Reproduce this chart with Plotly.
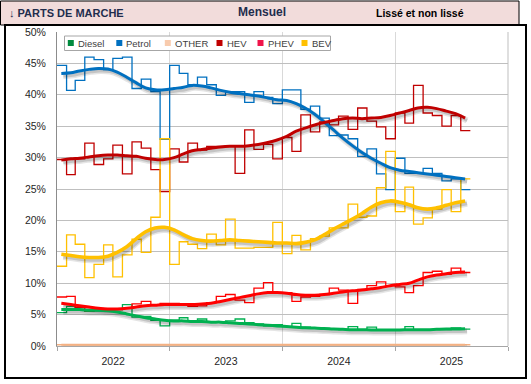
import plotly.graph_objects as go
import pandas as pd

# ---------------- data (monthly market shares, %) ----------------
months = pd.date_range("2022-01-01", periods=44, freq="MS")
years = ["2022", "2023", "2024", "2025"]

diesel = [5.3, 6.3, 5.7, 5.5, 5.6, 5.8, 5.8, 6.6, 4.6, 4.7, 4.1, 3.2,
          4.1, 4.5, 4.0, 4.3, 3.8, 3.8, 4.0, 4.3, 3.7, 3.5, 3.2, 3.4,
          3.1, 3.6, 3.0, 2.9, 2.8, 2.7, 2.6, 3.1, 2.6, 3.0, 2.6, 2.5,
          2.6, 3.1, 2.6, 2.5, 2.6, 2.6, 2.9, 2.7]
petrol = [44.7, 40.7, 42.3, 46.0, 45.6, 44.0, 45.8, 46.0, 41.0, 42.5, 40.5, 32.9,
          44.7, 43.4, 41.6, 42.8, 41.6, 39.9, 40.5, 40.5, 38.8, 40.5, 39.6, 38.6,
          40.8, 40.8, 37.7, 38.2, 36.3, 33.5, 33.6, 33.0, 30.2, 31.4, 27.4, 24.9,
          29.9, 27.5, 27.5, 28.3, 27.5, 26.3, 26.6, 24.9]
other = [0.2] * 44
hev = [29.7, 27.3, 29.8, 32.3, 28.9, 29.8, 32.0, 27.4, 32.5, 31.5, 28.1, 24.6,
       31.4, 29.3, 32.3, 31.2, 31.8, 31.8, 31.9, 27.5, 34.4, 31.3, 32.1, 29.8,
       33.2, 31.0, 36.8, 34.1, 35.7, 35.2, 36.6, 34.5, 37.9, 35.8, 34.9, 33.0,
       37.1, 35.5, 41.5, 37.1, 36.7, 35.0, 36.7, 34.3]
phev = [7.8, 7.9, 6.1, 5.6, 6.0, 5.6, 5.8, 6.0, 6.7, 7.1, 6.6, 6.8,
        6.8, 6.6, 6.3, 6.4, 6.9, 7.9, 8.2, 7.3, 6.9, 9.2, 10.1, 8.5,
        8.5, 7.1, 7.8, 7.9, 8.2, 9.2, 8.9, 6.8, 9.0, 9.6, 10.2, 9.6,
        9.4, 8.5, 9.6, 11.7, 11.9, 11.4, 12.4, 11.7]
bev = [12.7, 17.7, 16.2, 10.9, 13.0, 16.1, 11.0, 14.5, 17.0, 14.9, 20.5, 33.0,
       13.0, 16.6, 16.2, 15.5, 17.8, 16.1, 20.2, 15.6, 15.6, 15.7, 15.7, 19.7,
       14.7, 17.6, 15.3, 17.1, 17.5, 18.8, 18.8, 22.6, 20.5, 20.7, 25.2, 31.0,
       21.4, 25.3, 19.4, 20.4, 21.8, 24.9, 21.4, 26.6]

# smoothed series (one value per month)
diesel_s = [5.8, 5.8, 5.8, 5.7, 5.7, 5.6, 5.4, 5.1, 4.8, 4.5, 4.3, 4.1,
            4.0, 4.0, 3.9, 3.9, 3.8, 3.8, 3.7, 3.6, 3.5, 3.4, 3.3, 3.2,
            3.1, 3.0, 2.9, 2.85, 2.8, 2.7, 2.65, 2.6, 2.6, 2.55, 2.55, 2.55,
            2.55, 2.6, 2.6, 2.6, 2.65, 2.7, 2.7, 2.75]
petrol_s = [43.4, 43.5, 43.8, 44.05, 44.2, 44.1, 43.6, 42.8, 41.9, 41.1, 40.8, 40.8,
            41.0, 41.2, 41.5, 41.4, 41.1, 40.7, 40.4, 40.2, 40.0, 39.8, 39.5, 39.2,
            39.1, 38.6, 37.9, 36.9, 35.7, 34.4, 33.1, 31.9, 30.8, 29.9, 29.1, 28.4,
            28.0, 27.8, 27.6, 27.4, 27.2, 27.0, 26.8, 26.6]
other_s = [0.2] * 44
hev_s = [29.6, 29.8, 29.9, 30.1, 30.3, 30.4, 30.4, 30.3, 30.2, 29.9, 29.7, 29.7,
         30.0, 30.6, 31.1, 31.3, 31.5, 31.7, 31.8, 31.8, 31.9, 32.1, 32.4, 32.8,
         33.4, 34.2, 34.7, 35.2, 35.6, 35.9, 36.2, 36.3, 36.2, 36.3, 36.4, 36.7,
         37.1, 37.5, 37.9, 38.0, 37.8, 37.4, 37.0, 36.3]
phev_s = [6.8, 6.6, 6.4, 6.2, 6.0, 5.9, 5.9, 6.0, 6.2, 6.4, 6.5, 6.6,
          6.6, 6.6, 6.6, 6.7, 6.8, 7.1, 7.4, 7.7, 8.0, 8.3, 8.5, 8.5,
          8.4, 8.2, 8.1, 8.1, 8.2, 8.4, 8.6, 8.8, 8.9, 9.1, 9.3, 9.6,
          9.8, 10.0, 10.5, 11.0, 11.3, 11.5, 11.7, 11.8]
bev_s = [14.6, 14.4, 14.2, 14.1, 14.1, 14.3, 14.9, 15.8, 17.1, 18.2, 18.8, 18.9,
         18.5, 17.7, 17.1, 16.8, 16.7, 16.8, 16.9, 16.8, 16.7, 16.6, 16.5, 16.4,
         16.4, 16.3, 16.5, 16.9, 17.7, 18.6, 19.4, 20.2, 21.1, 22.1, 22.8, 23.1,
         22.9, 22.5, 22.0, 21.8, 22.0, 22.4, 22.8, 23.1]

names = ["Diesel", "Petrol", "OTHER", "HEV", "PHEV", "BEV"]
monthly = [diesel, petrol, other, hev, phev, bev]
smooth = [diesel_s, petrol_s, other_s, hev_s, phev_s, bev_s]
line_colors = ["#00B050", "#0070C0", "#F4B183", "#C00000", "#FF0000", "#FFC000"]
legend_colors = ["#008A3E", "#0070C0", "#F8CBAD", "#C00000", "#F0144A", "#FFC000"]
smooth_widths = [3, 3, 2, 3, 3, 3.6]

# ---------------- geometry ----------------
W, H = 531, 384
ML, MR, MT, MB = 57, 23, 32, 38
PW = W - ML - MR
PH = H - MT - MB

def px(x):
    return (x - ML) / PW

def py(y):
    return (H - MB - y) / PH

x_start = pd.Timestamp("2022-01-01")
x_end = pd.Timestamp("2026-01-01")
span_days = (x_end - x_start).days
shadow_dx = pd.Timedelta(days=2.0 * span_days / PW)
shadow_dy = 2.5 * 50 / PH

step_x = list(months) + [months[-1] + pd.offsets.MonthBegin(1)]
mid_x = [m + pd.Timedelta(days=14) for m in months]

fig = go.Figure()

# monthly (non smoothed) step lines
for n, vals, c in zip(names, monthly, line_colors):
    fig.add_trace(go.Scatter(x=step_x, y=vals + [vals[-1]], mode="lines",
                             line=dict(color=c, width=1.3, shape="hv"),
                             showlegend=False, hoverinfo="skip",
                             xaxis="x", yaxis="y"))

# shadows of the smoothed lines
for n, vals, w in zip(names, smooth, smooth_widths):
    fig.add_trace(go.Scatter(x=mid_x, y=vals, mode="lines",
                             line=dict(color="rgba(0,0,0,0.10)", width=w + 3, shape="spline"),
                             showlegend=False, hoverinfo="skip",
                             xaxis="x2", yaxis="y2"))
    fig.add_trace(go.Scatter(x=mid_x, y=vals, mode="lines",
                             line=dict(color="rgba(0,0,0,0.14)", width=w, shape="spline"),
                             showlegend=False, hoverinfo="skip",
                             xaxis="x2", yaxis="y2"))

# smoothed lines
for n, vals, c, w in zip(names, smooth, line_colors, smooth_widths):
    fig.add_trace(go.Scatter(x=mid_x, y=vals, mode="lines",
                             line=dict(color=c, width=w, shape="spline"),
                             showlegend=False, hoverinfo="skip",
                             xaxis="x3", yaxis="y3"))

year_mid = [pd.Timestamp(f"{y}-07-02") for y in years]

fig.update_layout(
    width=W, height=H,
    margin=dict(l=ML, r=MR, t=MT, b=MB),
    paper_bgcolor="white", plot_bgcolor="white",
    showlegend=False,
    font=dict(family="Liberation Sans, Arial, sans-serif", size=10, color="#262626"),
    xaxis=dict(type="date", range=[x_start, x_end], tickvals=year_mid, ticktext=years,
               ticks="", showgrid=False, zeroline=False,
               showline=True, linecolor="#A6A6A6", linewidth=1,
               ticklabelstandoff=5,
               tickfont=dict(size=10.5, color="#262626"),
               minor=dict(tickvals=[pd.Timestamp(f"{y}-01-01") for y in ["2022", "2023", "2024", "2025", "2026"]],
                          showgrid=True, gridcolor="#D9D9D9", gridwidth=1,
                          ticks="outside", ticklen=4, tickcolor="#A6A6A6")),
    yaxis=dict(range=[0, 50], dtick=5, ticksuffix="%", showgrid=True,
               gridcolor="#BFBFBF", gridwidth=1, zeroline=False,
               showline=True, linecolor="#8C8C8C", linewidth=1,
               ticks="", ticklabelstandoff=8,
               tickfont=dict(size=10.5, color="#262626")),
    xaxis2=dict(type="date", overlaying="x", anchor="y2",
                range=[x_start - shadow_dx, x_end - shadow_dx], visible=False),
    yaxis2=dict(overlaying="y", anchor="x2", range=[shadow_dy, 50 + shadow_dy], visible=False),
    xaxis3=dict(type="date", overlaying="x", anchor="y3",
                range=[x_start, x_end], visible=False),
    yaxis3=dict(overlaying="y", anchor="x3", range=[0, 50], visible=False),
)

shapes = []
annotations = []

# right border of plot area
shapes.append(dict(type="line", xref="paper", yref="paper", x0=1, x1=1, y0=0, y1=1,
                   line=dict(color="#BFBFBF", width=1), layer="below"))

# header band
shapes.append(dict(type="rect", xref="paper", yref="paper",
                   x0=px(0.5), x1=px(519), y0=py(25), y1=py(1),
                   fillcolor="#F2DCDB", line=dict(color="black", width=1)))
# chart frame
shapes.append(dict(type="rect", xref="paper", yref="paper",
                   x0=px(5), x1=px(526), y0=py(378), y1=py(25),
                   fillcolor="rgba(0,0,0,0)", line=dict(color="black", width=2)))

hdr_font = "Liberation Sans, Arial, sans-serif"
annotations.append(dict(xref="paper", yref="paper", x=px(7), y=py(13), xanchor="left", yanchor="middle",
                        text="<b>↓ PARTS DE MARCHE</b>", showarrow=False,
                        font=dict(family=hdr_font, size=11, color="#1F2D4D")))
annotations.append(dict(xref="paper", yref="paper", x=px(262), y=py(12), xanchor="center", yanchor="middle",
                        text="<b>Mensuel</b>", showarrow=False,
                        font=dict(family=hdr_font, size=12, color="#1F2D4D")))
annotations.append(dict(xref="paper", yref="paper", x=px(420), y=py(13), xanchor="center", yanchor="middle",
                        text="<b>Lissé et non lissé</b>", showarrow=False,
                        font=dict(family=hdr_font, size=10.5, color="black")))

# legend box
shapes.append(dict(type="rect", xref="paper", yref="paper",
                   x0=px(64.5), x1=px(330.5), y0=py(50.5), y1=py(36),
                   fillcolor="white", line=dict(color="#A6A6A6", width=1)))
leg_centers = [70.8, 119.3, 167.8, 219.5, 260.5, 304.5]
for n, c, cx in zip(names, legend_colors, leg_centers):
    shapes.append(dict(type="rect", xref="paper", yref="paper",
                       x0=px(cx - 3), x1=px(cx + 3), y0=py(46), y1=py(40),
                       fillcolor=c, line=dict(width=0)))
    annotations.append(dict(xref="paper", yref="paper", x=px(cx + 5), y=py(43.2),
                            xanchor="left", yanchor="middle", text=n, showarrow=False,
                            font=dict(size=9.5, color="#404040")))

fig.update_layout(shapes=shapes, annotations=annotations)

fig.write_html("out.html",
               config={"displayModeBar": False, "staticPlot": True},
               post_script="document.body.style.margin='0';document.body.style.padding='0';"
                           "document.documentElement.style.overflow='hidden';")
